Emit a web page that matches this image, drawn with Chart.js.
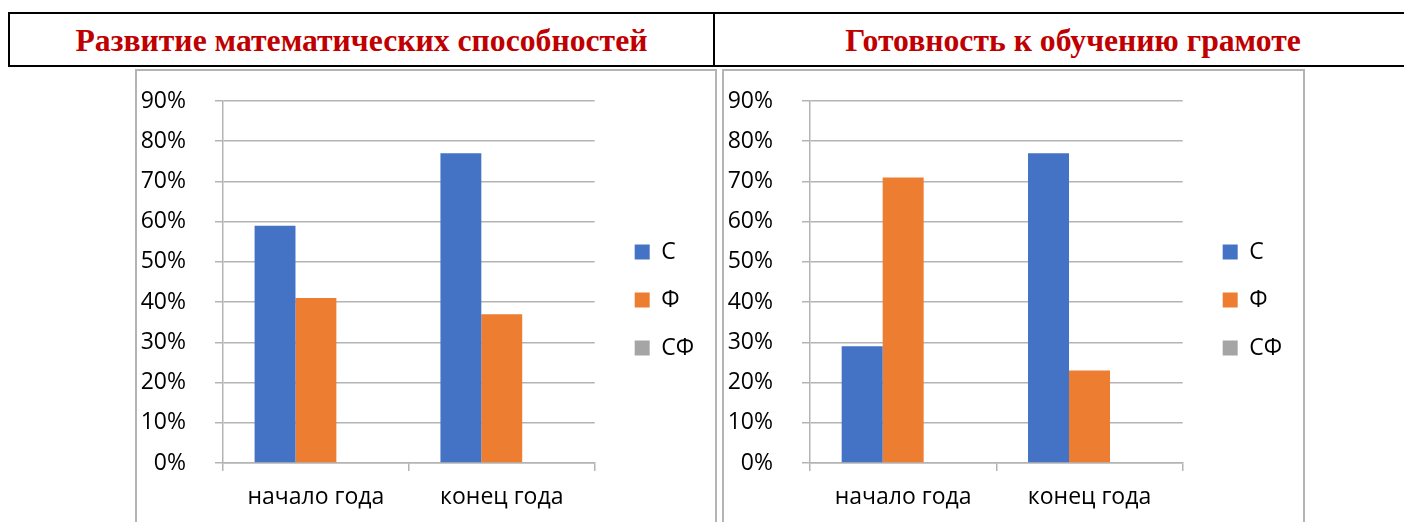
<!DOCTYPE html>
<html>
<head>
<meta charset="utf-8">
<script src="https://cdn.jsdelivr.net/npm/chart.js@4.4.0/dist/chart.umd.min.js"></script>
<style>
  html, body { margin: 0; padding: 0; background: #fff; overflow: hidden; }
  body { width: 1404px; height: 522px; position: relative; }
  .hdr { position: absolute; top: 12px; height: 51px; border: 2px solid #000;
         font-family: "Liberation Serif", "Times New Roman", serif; font-weight: bold;
         font-size: 31.7px; color: #c00000; text-align: center; line-height: 53px; }
  .panel { position: absolute; top: 69px; height: 470px; border: 2px solid #b4b4b4; }
  .panel canvas { position: absolute; left: 0; top: 0; }
</style>
</head>
<body>
<div class="hdr" style="left:8px; width:703px;">Развитие математических способностей</div>
<div class="hdr" style="left:713px; width:720px; border-left:none;">Готовность к обучению грамоте</div>
<div class="panel" style="left:135px; width:578px;"><canvas id="chartMath" width="578" height="470"></canvas></div>
<div class="panel" style="left:722px; width:579px;"><canvas id="chartRead" width="579" height="470"></canvas></div>
<script>
// ── Data ─────────────────────────────────────────────────────────────────
var categories   = ['начало года', 'конец года'];
var seriesNames  = ['С', 'Ф', 'СФ'];
var seriesColors = ['#4472c4', '#ed7d31', '#a5a5a5'];

var mathC  = [59, 77];
var mathF  = [41, 37];
var mathCF = [0, 0];

var readC  = [29, 77];
var readF  = [71, 23];
var readCF = [0, 0];

var yTicks = [0, 10, 20, 30, 40, 50, 60, 70, 80, 90];

var FONT = { family: '"Open Sans", "Noto Sans", sans-serif', size: 23 };

// nudge the legend box a little, Excel-style placement
var legendNudge = {
    id: 'legendNudge',
    afterLayout: function (chart) {
        var lg = chart.legend;
        if (!lg) return;
        lg.left += 15; lg.right += 15;
        lg.top -= 21; lg.bottom -= 21;
    }
};

function makeChart(id, rows) {
    var datasets = rows.map(function (vals, i) {
        return {
            label: seriesNames[i],
            data: vals,
            backgroundColor: seriesColors[i],
            borderWidth: 0,
            categoryPercentage: 0.66,
            barPercentage: 1
        };
    });

    return new Chart(document.getElementById(id), {
        type: 'bar',
        data: { labels: categories, datasets: datasets },
        plugins: [legendNudge],
        options: {
            responsive: false,
            animation: false,
            layout: { padding: { left: 4, top: 30, right: 26, bottom: 0 } },
            plugins: {
                tooltip: { enabled: false },
                legend: {
                    position: 'right',
                    labels: {
                        font: FONT,
                        color: '#000',
                        boxWidth: 15,
                        boxHeight: 15,
                        padding: 25
                    }
                }
            },
            scales: {
                x: {
                    afterFit: function (s) { s.height = 78; },
                    grid: { drawOnChartArea: false, tickLength: 8, color: '#b4b4b4', lineWidth: 1.5 },
                    border: { color: '#b4b4b4', width: 1.5 },
                    ticks: { font: FONT, color: '#000', padding: 13 }
                },
                y: {
                    min: 0,
                    max: 90,
                    afterFit: function (s) {
                        s.width = 82;
                        s.paddingTop = 16;
                        s.paddingBottom = 16;
                    },
                    afterBuildTicks: function (s) {
                        s.ticks = yTicks.map(function (v) { return { value: v }; });
                    },
                    grid: { color: '#b4b4b4', lineWidth: 1.5, tickLength: 8 },
                    border: { color: '#b4b4b4', width: 1.5 },
                    ticks: {
                        font: FONT,
                        color: '#000',
                        padding: 29,
                        callback: function (v) { return v + '%'; }
                    }
                }
            }
        }
    });
}

makeChart('chartMath', [mathC, mathF, mathCF]);
makeChart('chartRead', [readC, readF, readCF]);
</script>
</body>
</html>
